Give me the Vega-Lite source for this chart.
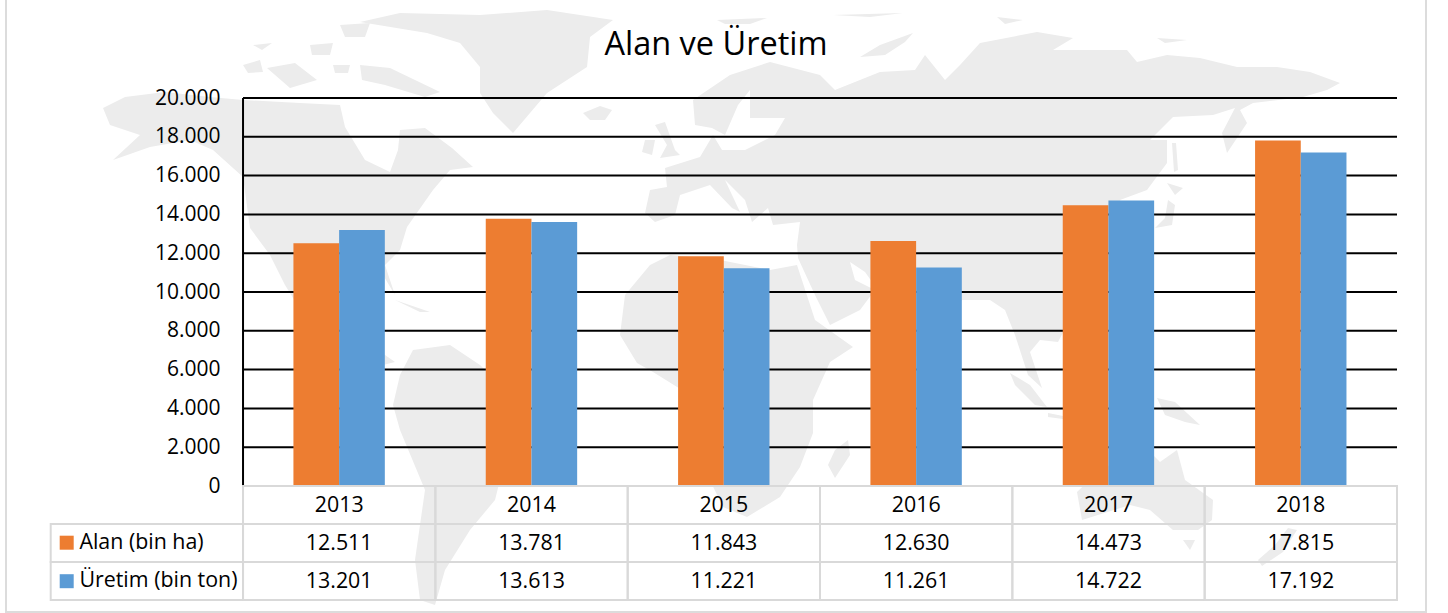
{"$schema":"https://vega.github.io/schema/vega-lite/v6.json","autosize":"none","width":1154,"height":502,"padding":{"left":243,"top":98,"right":51,"bottom":13},"background":"white","config":{"font":"Open Sans","view":{"stroke":null}},"title":{"text":"Alan ve Üretim","frame":"group","anchor":"middle","dx":-104,"offset":-65,"fontSize":32.5,"fontWeight":"normal","color":"#000","font":"Open Sans"},"resolve":{"scale":{"y":"independent"},"axis":{"y":"independent"}},"datasets":{"bars":[{"yil":"2013","seri":"Alan (bin ha)","deger":12511},{"yil":"2013","seri":"Üretim (bin ton)","deger":13201},{"yil":"2014","seri":"Alan (bin ha)","deger":13781},{"yil":"2014","seri":"Üretim (bin ton)","deger":13613},{"yil":"2015","seri":"Alan (bin ha)","deger":11843},{"yil":"2015","seri":"Üretim (bin ton)","deger":11221},{"yil":"2016","seri":"Alan (bin ha)","deger":12630},{"yil":"2016","seri":"Üretim (bin ton)","deger":11261},{"yil":"2017","seri":"Alan (bin ha)","deger":14473},{"yil":"2017","seri":"Üretim (bin ton)","deger":14722},{"yil":"2018","seri":"Alan (bin ha)","deger":17815},{"yil":"2018","seri":"Üretim (bin ton)","deger":17192}],"table":[{"yil":"2013","satir":"Yıl","metin":"2013"},{"yil":"2014","satir":"Yıl","metin":"2014"},{"yil":"2015","satir":"Yıl","metin":"2015"},{"yil":"2016","satir":"Yıl","metin":"2016"},{"yil":"2017","satir":"Yıl","metin":"2017"},{"yil":"2018","satir":"Yıl","metin":"2018"},{"yil":" ","satir":"Alan","metin":""},{"yil":"2013","satir":"Alan","metin":"12.511"},{"yil":"2014","satir":"Alan","metin":"13.781"},{"yil":"2015","satir":"Alan","metin":"11.843"},{"yil":"2016","satir":"Alan","metin":"12.630"},{"yil":"2017","satir":"Alan","metin":"14.473"},{"yil":"2018","satir":"Alan","metin":"17.815"},{"yil":" ","satir":"Üretim","metin":""},{"yil":"2013","satir":"Üretim","metin":"13.201"},{"yil":"2014","satir":"Üretim","metin":"13.613"},{"yil":"2015","satir":"Üretim","metin":"11.221"},{"yil":"2016","satir":"Üretim","metin":"11.261"},{"yil":"2017","satir":"Üretim","metin":"14.722"},{"yil":"2018","satir":"Üretim","metin":"17.192"}],"grid":[{"v":2000},{"v":4000},{"v":6000},{"v":8000},{"v":10000},{"v":12000},{"v":14000},{"v":16000},{"v":18000},{"v":20000}]},"layer":[{"data":{"values":[{"type":"Feature","properties":{"ad":"Kuzey Amerika"},"geometry":{"type":"Polygon","coordinates":[[[-115.4,52.8],[-111,55],[-103,56],[-94,55],[-87.4,54.4],[-76,53.8],[-68,53.4],[-67,49],[-63,42.4],[-58,40],[-56.4,44.4],[-56,48.4],[-51,48.8],[-45.6,44.8],[-41.4,41],[-46,40.4],[-49.4,36.4],[-54.6,29],[-56,24.4],[-59,21.4],[-57,15.4],[-60,20.4],[-67,20.4],[-70,16.4],[-68,10.4],[-65,7.4],[-59,3.4],[-57,2],[-61,1],[-68,4.4],[-74,9.4],[-79,17.4],[-82,23.4],[-86,28.8],[-87.4,39],[-93.4,44.4],[-98,46.4],[-106,45],[-113.4,42.4],[-108,47.4],[-114,49.4],[-115.4,52.8]]]}},{"type":"Feature","properties":{"ad":"Güney Amerika"},"geometry":{"type":"Polygon","coordinates":[[[-53.4,4.4],[-46,5.4],[-40,1.4],[-36,-2.6],[-30,-6.6],[-31,-13.6],[-36,-21.6],[-37,-25.6],[-42,-31.6],[-47,-39.6],[-49,-46.6],[-52,-45.6],[-53,-37.6],[-51,-23.6],[-56,-11.6],[-57.4,-6.6],[-56,-0.6],[-53.4,4.4]]]}},{"type":"Feature","properties":{"ad":"Grönland"},"geometry":{"type":"Polygon","coordinates":[[[-56,71.8],[-40,71.4],[-26.6,72.4],[-20,71.4],[-13.4,70.4],[-18,67],[-18.6,61],[-26.6,55.8],[-33.4,47.8],[-37.4,51.8],[-40,55.8],[-40,61],[-44,65.8],[-50.6,67.8],[-64,70],[-56,71.8]]]}},{"type":"Feature","properties":{"ad":"Avrasya"},"geometry":{"type":"Polygon","coordinates":[[[-7,31.8],[-6,36.4],[-2.6,37],[-3,40.8],[4,43],[6.6,47.4],[8.4,44.4],[13,44.4],[19,47.4],[21,50.8],[14,50.8],[14,56.4],[11.6,53.4],[9,47.4],[6.4,48.8],[3,49.4],[2.6,54.4],[10,59.4],[18,62],[28,59.4],[31,56.4],[36,58.4],[40,60],[47,60.4],[49,63.4],[53,58.4],[56,61.4],[60,65.8],[71.4,68],[78.6,66.8],[74.6,64.4],[89.4,64.4],[91.4,62],[97.4,63.4],[104,62.8],[111.4,61],[119.4,61],[126,60],[132,57.8],[129.4,56.4],[124.6,55],[114.6,53.8],[112,52.4],[113.4,49.8],[109.4,43.8],[108.4,47.8],[111,52.8],[106.6,51.4],[98.6,51],[94,46.4],[97.4,46.4],[97.4,41.8],[93.4,36.4],[88,34.4],[90,29.4],[86,20.4],[79,12.4],[75.6,6],[72,6.4],[70,4],[72.4,-3.2],[69.6,-0.6],[67,7.4],[65,12.4],[62,14.4],[56.4,14.4],[52,6.4],[49,-0.6],[45,8.4],[41,14.4],[37,20],[34,22],[35,18.4],[39,16.4],[36,12.4],[30,9.4],[27,15.4],[23.6,22.8],[23.4,25.4],[24,30],[18.6,29.4],[17.6,32.8],[14.4,30],[13,34.4],[9,38.4],[12,32],[10.4,32.8],[6,37.4],[3,36.4],[0,35.4],[-1,31.4],[-5,30],[-7,31.8]]]}},{"type":"Feature","properties":{"ad":"Afrika"},"geometry":{"type":"Polygon","coordinates":[[[-2,23.4],[8,22.4],[18,20.4],[23.4,21.4],[27,10.4],[34.6,5],[30,2],[26.6,-5.6],[26.6,-12.2],[24,-19],[20,-25],[13.4,-29],[8.6,-27],[4,-17.6],[2,-4.6],[-5.4,0],[-8.6,1.8],[-12,7.4],[-11,15.4],[-6,21.4],[-2,23.4]]]}},{"type":"Feature","properties":{"ad":"Avustralya"},"geometry":{"type":"Polygon","coordinates":[[[99.4,-15.6],[101,-21.6],[106.6,-25.6],[106.4,-29.6],[103.6,-31.6],[98.6,-31.6],[94,-27.6],[90,-26.6],[80.4,-29.6],[79.4,-24],[84,-19.6],[90,-16.6],[92,-14],[96,-18],[99.4,-15.6]]]}},{"type":"Feature","properties":{"ad":"Adalar"},"geometry":{"type":"MultiPolygon","coordinates":[[[[33.6,-13.6],[34,-16.6],[31,-21.2],[29.6,-18.6],[31,-15.6],[33.6,-13.6]]],[[[100.6,-33.6],[103,-33.6],[102,-35.6],[100.6,-33.6]]],[[[123.4,-31.6],[120.6,-36],[116.4,-38.8],[115.6,-37.6],[119,-34.6],[121.6,-31.2],[123.4,-31.6]]],[[[95.4,-5.2],[99,-6],[104,-10.6],[101,-10],[97,-8.6],[95.4,-5.2]]],[[[66,-0.2],[70,-2.6],[73.4,-7],[71,-6.6],[67,-2.6],[66,-0.2]]],[[[73.6,-8.2],[76.6,-8.8],[76.6,-9.4],[73.6,-9],[73.6,-8.2]]],[[[-19.4,51.8],[-16,53.2],[-13.6,52.4],[-15,50.4],[-18,50.4],[-19.4,51.8]]],[[[-3,50],[-1,44.4],[0,43.4],[-4,42.8],[-2.6,45.4],[-5,49.4],[-3,50]]],[[[-7,46.4],[-5,46.4],[-5.6,43.4],[-7.6,44],[-7,46.4]]],[[[36,63],[40,65.4],[46.6,67.8],[45,66],[41,63.4],[36,63]]],[[[98.4,45.8],[99.2,45.8],[99.6,40.4],[98.8,40],[98.4,45.8]]],[[[97.4,37.8],[100.6,36.8],[99,35.4],[97.4,37.8]]],[[[97.6,34.4],[99,33.4],[98.4,29.4],[95,28.8],[97,30.8],[97.6,34.4]]],[[[-57,14.4],[-50,12],[-52,12],[-57,14.4]]],[[[7.4,70.4],[17.4,70.8],[14,69.6],[9,69.6],[7.4,70.4]]],[[[63.4,71],[68.6,70.4],[65,69.6],[63.4,71]]],[[[95.4,66.8],[101.4,66.4],[97,65.8],[95.4,66.8]]],[[[30.6,71.4],[44.6,71.8],[38,71],[30.6,71.4]]],[[[-87.4,61.4],[-84,62.4],[-83.4,60],[-86.4,59.8],[-87.4,61.4]]],[[[-82.6,60.8],[-77,61.8],[-72.6,58.4],[-78,56.8],[-82.6,60.8]]],[[[-64,61.4],[-58,60.8],[-48,56],[-51,55],[-59,57.4],[-63.6,58.4],[-64,61.4]]],[[[-68,69.4],[-62,69.8],[-63,67],[-67,67],[-68,69.4]]],[[[-74,65.4],[-69.4,65.8],[-70,63.4],[-73.6,63.4],[-74,65.4]]],[[[-69.4,61.4],[-66,61.4],[-66.4,59.8],[-69,59.8],[-69.4,61.4]]],[[[-85.4,65.4],[-81.6,65.8],[-83.6,64.4],[-85.4,65.4]]]]}}]},"mark":{"type":"geoshape","fill":"#ececec","stroke":null,"clip":false},"projection":{"type":"identity","reflectY":true,"scale":5,"translate":[437,274]}},{"data":{"values":[{"type":"Feature","properties":{"ad":"Çerçeve"},"geometry":{"type":"LineString","coordinates":[[-134.8,74.4],[-134.8,-48],[149.2,-48],[149.2,74.4]]}}]},"mark":{"type":"geoshape","fill":null,"filled":false,"stroke":"#dcdcdc","strokeWidth":2,"clip":false},"projection":{"type":"identity","reflectY":true,"scale":5,"translate":[437,274]}},{"data":{"name":"grid"},"mark":{"type":"rule","color":"#000","strokeWidth":2},"encoding":{"y":{"field":"v","type":"quantitative","axis":null,"scale":{"domain":[-5876,20000],"nice":false,"zero":false}}}},{"data":{"values":[{"yil":"2013","alt":0,"ust":20000}]},"mark":{"type":"rule","color":"#000","strokeWidth":2},"encoding":{"x":{"field":"yil","type":"nominal","bandPosition":0,"axis":null,"scale":{"domain":[" ","2013","2014","2015","2016","2017","2018"],"range":[-192.3,1154],"paddingInner":0,"paddingOuter":0}},"y":{"field":"alt","type":"quantitative","axis":null,"scale":{"domain":[-5876,20000],"nice":false,"zero":false}},"y2":{"field":"ust"}}},{"data":{"name":"bars"},"mark":{"type":"bar"},"encoding":{"x":{"field":"yil","type":"nominal","axis":null,"scale":{"domain":[" ","2013","2014","2015","2016","2017","2018"],"range":[-192.3,1154],"paddingInner":0,"paddingOuter":0}},"xOffset":{"field":"seri","type":"nominal","scale":{"domain":["Alan (bin ha)","Üretim (bin ton)"],"range":[50.4,141.8],"paddingInner":0,"paddingOuter":0}},"y":{"field":"deger","type":"quantitative","scale":{"domain":[-5876,20000],"nice":false,"zero":false},"axis":{"zindex":1,"values":[0,2000,4000,6000,8000,10000,12000,14000,16000,18000,20000],"labelExpr":"replace(format(datum.value,','),',','.')","labelFontSize":21,"labelFont":"Open Sans","labelColor":"#000","ticks":false,"domain":false,"grid":false,"title":null,"labelPadding":23}},"color":{"field":"seri","type":"nominal","scale":{"domain":["Alan (bin ha)","Üretim (bin ton)"],"range":["#ED7D31","#5B9BD5"]},"legend":{"orient":"none","legendX":-187,"legendY":434,"title":null,"symbolType":"square","symbolSize":196,"symbolStrokeWidth":0,"labelFontSize":21.4,"labelFont":"Open Sans","labelColor":"#000","rowPadding":15.5,"padding":0,"labelOffset":2}}}},{"data":{"name":"table"},"mark":{"type":"rect","fill":"transparent","stroke":"#d9d9d9","strokeWidth":2},"encoding":{"x":{"field":"yil","type":"nominal","axis":null,"scale":{"domain":[" ","2013","2014","2015","2016","2017","2018"],"range":[-192.3,1154],"paddingInner":0,"paddingOuter":0}},"y":{"field":"satir","type":"nominal","axis":null,"scale":{"domain":["Yıl","Alan","Üretim"],"range":[388,502],"paddingInner":0,"paddingOuter":0}}}},{"data":{"name":"table"},"mark":{"type":"text","fontSize":21.4,"font":"Open Sans","color":"#000","dy":1},"encoding":{"x":{"field":"yil","type":"nominal","axis":null,"scale":{"domain":[" ","2013","2014","2015","2016","2017","2018"],"range":[-192.3,1154],"paddingInner":0,"paddingOuter":0}},"y":{"field":"satir","type":"nominal","axis":null,"scale":{"domain":["Yıl","Alan","Üretim"],"range":[388,502],"paddingInner":0,"paddingOuter":0}},"text":{"field":"metin"}}}]}
